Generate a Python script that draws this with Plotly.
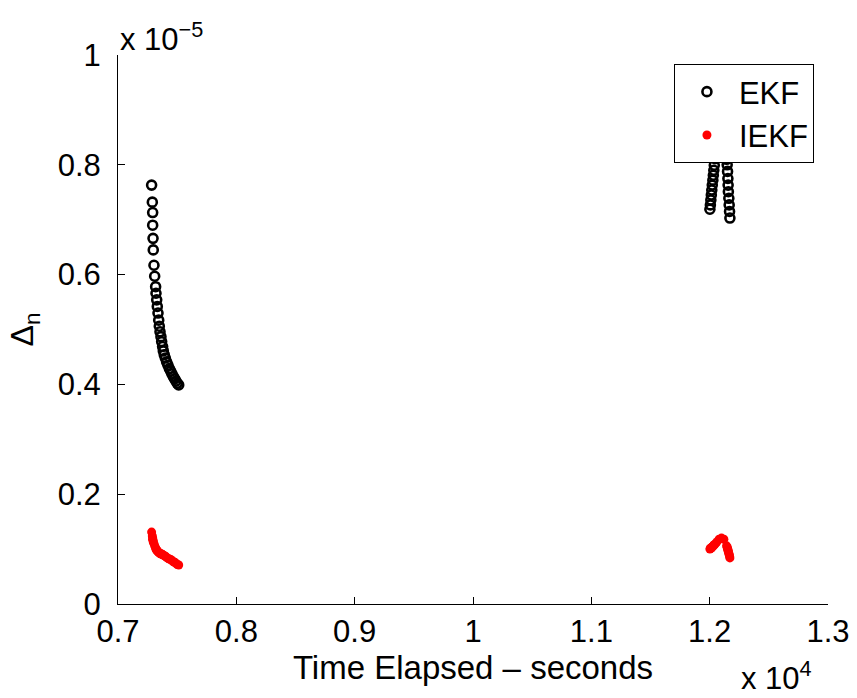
import plotly.graph_objects as go

# Normalised innovation measure for the two filters over two observation passes.
# Time in seconds, Δ_n in raw units (axes are shown scaled by 1e4 and 1e-5).
pass1_t = [7284, 7290, 7293, 7293, 7296, 7298, 7304, 7310, 7318, 7321, 7327, 7332,
           7338, 7344, 7349, 7355, 7363, 7369, 7377, 7383, 7391, 7400, 7411, 7422,
           7434, 7445, 7456, 7468, 7479, 7490, 7501, 7513]
pass1_ekf = [7.63, 7.32, 7.13, 6.90, 6.66, 6.45, 6.17, 5.97, 5.78, 5.66, 5.54, 5.42,
             5.30, 5.17, 5.06, 4.96, 4.87, 4.78, 4.69, 4.61, 4.54, 4.48, 4.41, 4.35,
             4.29, 4.24, 4.19, 4.14, 4.10, 4.06, 4.02, 3.99]
pass1_iekf = [1.31, 1.24, 1.20, 1.18, 1.16, 1.13, 1.10, 1.06, 1.02, 1.00, 0.98, 0.97,
              0.95, 0.94, 0.93, 0.92, 0.91, 0.91, 0.90, 0.89, 0.88, 0.87, 0.85, 0.83,
              0.82, 0.81, 0.79, 0.77, 0.76, 0.74, 0.72, 0.71]

pass2_t = [12002, 12006, 12010, 12014, 12018, 12022, 12027, 12031, 12035, 12039,
           12045, 12060, 12080, 12100, 12120, 12143, 12148, 12151, 12154, 12156,
           12158, 12162, 12165, 12168, 12171]
pass2_ekf = [7.19, 7.27, 7.36, 7.45, 7.54, 7.63, 7.72, 7.81, 7.90, 7.99,
             8.11, 8.25, 8.35, 8.35, 8.25, 8.10, 8.00, 7.88, 7.75, 7.63,
             7.51, 7.39, 7.27, 7.15, 7.03]
pass2_iekf = [1.00, 1.01, 1.02, 1.02, 1.03, 1.04, 1.05, 1.06, 1.07, 1.08,
              1.09, 1.13, 1.18, 1.20, 1.18, 1.06, 1.03, 1.01, 0.99, 0.97,
              0.95, 0.92, 0.90, 0.87, 0.84]

x_ticks = [0.7, 0.8, 0.9, 1.0, 1.1, 1.2, 1.3]
x_tick_text = ["0.7", "0.8", "0.9", "1", "1.1", "1.2", "1.3"]
y_ticks = [0, 0.2, 0.4, 0.6, 0.8, 1.0]
y_tick_text = ["0", "0.2", "0.4", "0.6", "0.8", "1"]

T_SCALE = 1e4      # seconds per x-axis unit
D_SCALE = 1e-5     # Δ_n per y-axis unit
RAW = 1e-6         # raw Δ_n values above are listed in units of 1e-6

t_all = pass1_t + pass2_t
ekf_all = pass1_ekf + pass2_ekf
iekf_all = pass1_iekf + pass2_iekf

xs = [t / T_SCALE for t in t_all]
ekf_y = [d * RAW / D_SCALE for d in ekf_all]
iekf_y = [d * RAW / D_SCALE for d in iekf_all]

FONT = "Liberation Sans, Arial, Helvetica, sans-serif"
TICK_SIZE = 31

fig = go.Figure()
fig.add_trace(go.Scatter(
    x=xs, y=ekf_y, mode="markers", name="EKF", legendgroup="a",
    marker=dict(symbol="circle-open", size=9, color="black",
                line=dict(color="black", width=2.6)),
))
fig.add_trace(go.Scatter(
    x=xs, y=iekf_y, mode="markers", name="IEKF", legendgroup="b",
    marker=dict(symbol="circle", size=9, color="red", line=dict(width=0)),
))

axis_common = dict(
    showline=True, linecolor="black", linewidth=1, mirror=False,
    ticks="inside", ticklen=7, tickcolor="black", tickwidth=1,
    showgrid=False, zeroline=False, automargin=False,
    tickfont=dict(family=FONT, size=TICK_SIZE, color="black"),
)

fig.update_layout(
    width=857, height=698,
    margin=dict(l=118, r=29, t=55, b=94),
    paper_bgcolor="white", plot_bgcolor="white",
    font=dict(family=FONT, size=TICK_SIZE, color="black"),
    xaxis=dict(range=[0.7, 1.3], tickvals=x_ticks, ticktext=x_tick_text,
               ticklabelstandoff=0,
               title=dict(text="Time Elapsed – seconds", standoff=0,
                          font=dict(family=FONT, size=33)),
               **axis_common),
    yaxis=dict(range=[0, 1], tickvals=y_ticks, ticktext=y_tick_text,
               ticklabelstandoff=10,
               title=dict(text="Δ<sub>n</sub>", standoff=14,
                          font=dict(family=FONT, size=32)),
               **axis_common),
    legend=dict(x=0.783, y=0.9836, xanchor="left", yanchor="top",
                bgcolor="white", bordercolor="black", borderwidth=1,
                font=dict(family=FONT, size=31), tracegroupgap=0,
                itemwidth=54),
    showlegend=True,
)

fig.add_annotation(xref="paper", yref="paper", x=0, y=1, xanchor="left",
                   yanchor="bottom", yshift=-4, showarrow=False,
                   text="x 10<sup>−5</sup>", font=dict(family=FONT, size=TICK_SIZE))
fig.add_annotation(xref="paper", yref="paper", x=1, y=0, xanchor="right",
                   yanchor="top", xshift=-14, yshift=-50, showarrow=False,
                   text="x 10<sup>4</sup>", font=dict(family=FONT, size=TICK_SIZE))

fig.write_html("out.html")
